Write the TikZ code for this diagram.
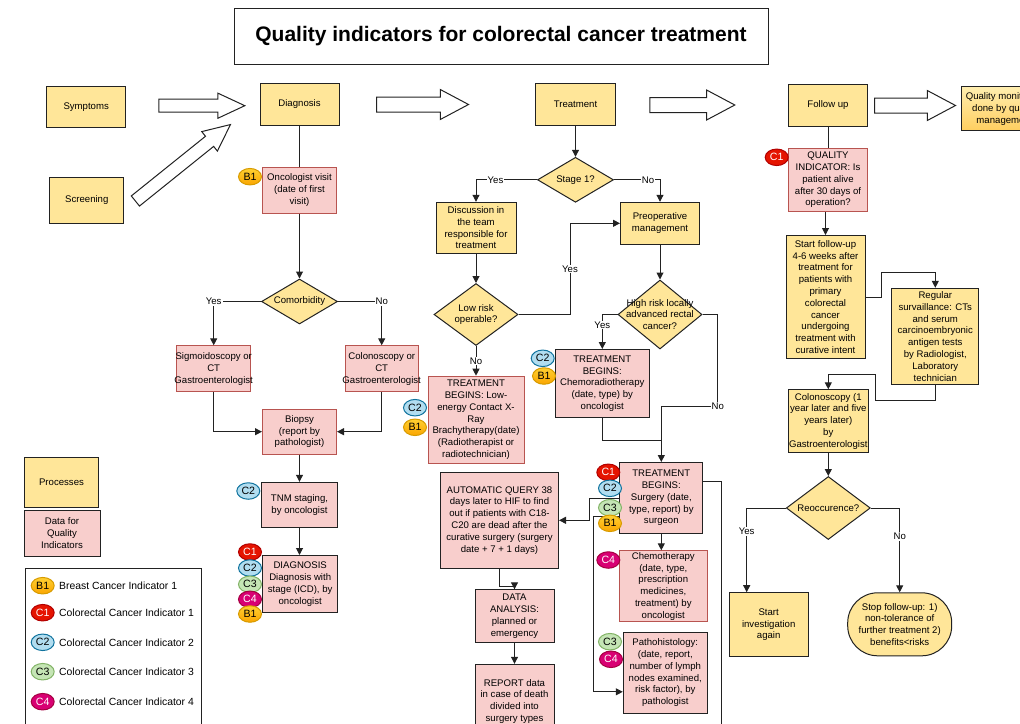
\documentclass[tikz,border=0pt]{standalone}
\usepackage{fontspec}
\setmainfont{Liberation Sans}
\usepackage{tikz}
\usetikzlibrary{shapes.geometric,shapes.arrows,arrows.meta,positioning,calc}
\definecolor{procyellow}{RGB}{255,230,153}
\definecolor{datapink}{RGB}{248,206,204}
\definecolor{datared}{RGB}{184,84,80}
\definecolor{darkline}{RGB}{34,34,34}
\definecolor{badgeorange}{RGB}{255,208,50}
\definecolor{badgeorangeb}{RGB}{250,165,0}
\definecolor{badgeorangeline}{RGB}{215,155,0}
\definecolor{badgered}{RGB}{229,20,0}
\definecolor{badgeredline}{RGB}{178,0,0}
\definecolor{badgeblue}{RGB}{177,221,240}
\definecolor{badgeblueline}{RGB}{16,115,158}
\definecolor{badgegreen}{RGB}{197,229,181}
\definecolor{badgegreenline}{RGB}{130,179,102}
\definecolor{badgemagenta}{RGB}{216,0,115}
\definecolor{badgemagentaline}{RGB}{165,0,64}
\definecolor{monitortop}{RGB}{255,238,175}
\definecolor{monitorbot}{RGB}{255,206,95}

\begin{document}
\begin{tikzpicture}[x=1pt, y=-1pt, font=\fontsize{9.6}{11.8}\selectfont]
\tikzstyle{process} = [rectangle, draw=darkline, line width=1pt, fill=procyellow, align=center, inner xsep=1pt, inner ysep=1pt]
\tikzstyle{data} = [rectangle, draw=datared, line width=1pt, fill=datapink, align=center, inner xsep=1pt, inner ysep=1pt]
\tikzstyle{datadark} = [data, draw=darkline]
\tikzstyle{decision} = [diamond, draw=darkline, line width=1pt, fill=procyellow, align=center, inner sep=0pt]
\tikzstyle{bigarrow} = [single arrow, draw=darkline, line width=1pt, fill=white, inner xsep=0pt, inner ysep=7pt, single arrow tip angle=56, single arrow head extend=7.5pt]
\tikzstyle{smallarrow} = [bigarrow, inner ysep=6pt, single arrow head extend=6pt, single arrow tip angle=50]
\tikzstyle{badge} = [ellipse, line width=1pt, minimum width=23pt, minimum height=16.5pt, inner sep=0pt, font=\fontsize{10.6}{12}\selectfont]
\tikzstyle{badgeB} = [badge, draw=badgeorangeline, top color=badgeorange, bottom color=badgeorangeb]
\tikzstyle{badgeCa} = [badge, draw=badgeredline, fill=badgered, text=white]
\tikzstyle{badgeCb} = [badge, draw=badgeblueline, fill=badgeblue]
\tikzstyle{badgeCc} = [badge, draw=badgegreenline, fill=badgegreen]
\tikzstyle{badgeCd} = [badge, draw=badgemagentaline, fill=badgemagenta, text=white]
\tikzstyle{arrow} = [line width=1pt, draw=darkline, ->, >={Triangle[length=7pt,width=7pt]}]
\tikzstyle{link} = [line width=1pt, draw=darkline]
\tikzstyle{lbl} = [fill=white, inner sep=1pt]
\tikzstyle{keytext} = [anchor=west, inner sep=0pt, font=\fontsize{10.4}{12}\selectfont]

\useasboundingbox (0,0) rectangle (1020,723);
\clip (0,0) rectangle (1020,723);

\node (Title) [draw=darkline, line width=1pt, minimum width=534pt, minimum height=56pt, font=\fontsize{21}{25}\selectfont\bfseries] at (501,36) {Quality indicators for colorectal cancer treatment};

% top row
\node (Symptoms) [process, minimum width=79pt, minimum height=41pt] at (86.2,106.7) {Symptoms};
\node (Screening) [process, minimum width=74pt, minimum height=46pt] at (86.8,200.5) {Screening};
\node (ArrowSymptoms) [smallarrow, minimum height=86pt, anchor=tail] at (158.3,105.7) {};
\node (ArrowScreening) [smallarrow, minimum height=122pt, rotate=38.8, anchor=tail] at (135,201.3) {};
\node (Diagnosis) [process, minimum width=79pt, minimum height=42pt] at (299.5,104.3) {Diagnosis};
\node (ArrowDiagnosis) [bigarrow, minimum height=92pt, anchor=tail] at (376,104.5) {};
\node (Treatment) [process, minimum width=80pt, minimum height=42pt] at (575.5,104.5) {Treatment};
\node (ArrowTreatment) [bigarrow, minimum height=85pt, anchor=tail] at (649.3,105) {};
\node (FollowUp) [process, minimum width=79pt, minimum height=42pt] at (828,105) {Follow up};
\node (ArrowFollowUp) [bigarrow, minimum height=81pt, anchor=tail] at (874,105.5) {};
\node (Monitoring) [process, top color=monitortop, bottom color=monitorbot, minimum width=87pt, minimum height=44pt] at (1004.5,108.8) {Quality monitoring\\done by quality\\management};

% diagnosis
\node (Onco) [data, minimum width=74pt, minimum height=46pt] at (299.5,190.3) {Oncologist visit\\(date of first\\visit)};
\node (Comorbidity) [decision, aspect=1.68, minimum width=76pt, minimum height=45pt] at (299.5,301.5) {Comorbidity};
\node (Sigmo) [data, inner xsep=-3pt, minimum width=74pt, minimum height=46pt] at (213.7,368.8) {Sigmoidoscopy or\\CT\\Gastroenterologist};
\node (Colono) [data, inner xsep=-3pt, minimum width=73pt, minimum height=46pt] at (381.7,368.8) {Colonoscopy or\\CT\\Gastroenterologist};
\node (Biopsy) [data, minimum width=74pt, minimum height=45pt] at (299.5,431.7) {Biopsy\\(report by\\pathologist)};
\node (TNM) [datadark, minimum width=76pt, minimum height=45pt] at (299.5,504.8) {TNM staging,\\by oncologist};
\node (DiagnosisFinal) [datadark, minimum width=75pt, minimum height=57pt] at (300.2,584) {DIAGNOSIS\\Diagnosis with\\stage (ICD), by\\oncologist};

% legend
\node (KeyProcess) [process, minimum width=74pt, minimum height=50pt] at (61.5,482.7) {Processes};
\node (KeyData) [datadark, minimum width=76pt, minimum height=46pt] at (62,533) {Data for\\Quality\\Indicators};
\node (KeyFrame) [draw=darkline, line width=1pt, minimum width=176pt, minimum height=180pt, anchor=north west] at (25,567.7) {};

% treatment
\node (Stage) [decision, aspect=1.65, minimum width=76pt, minimum height=45pt] at (575.5,179.8) {Stage 1?};
\node (Discussion) [process, minimum width=80pt, minimum height=51pt] at (476,227.8) {Discussion in\\the team\\responsible for\\treatment};
\node (Preop) [process, minimum width=79pt, minimum height=42pt] at (660,223.3) {Preoperative\\management};
\node (LowRisk) [decision, aspect=1.35, minimum width=84pt, minimum height=62pt] at (476,314.5) {Low risk\\operable?};
\node (HighRisk) [decision, minimum width=84pt, minimum height=69pt] at (660,314.5) {};
\node (HighRiskText) [align=center, inner sep=0pt] at (HighRisk) {High risk locally\\advanced rectal\\cancer?};
\node (TreatLow) [data, minimum width=96pt, minimum height=87pt] at (476,419.7) {TREATMENT\\BEGINS: Low-\\energy Contact X-\\Ray\\Brachytherapy(date)\\(Radiotherapist or\\radiotechnician)};
\node (Chemo) [datadark, minimum width=94pt, minimum height=68pt] at (602.3,383.5) {TREATMENT\\BEGINS:\\Chemoradiotherapy\\(date, type) by\\oncologist};
\node (Surgery) [datadark, minimum width=83pt, minimum height=71pt] at (661.3,498) {TREATMENT\\BEGINS:\\Surgery (date,\\type, report) by\\surgeon};
\node (Chemotherapy) [data, minimum width=88pt, minimum height=71pt] at (663.3,586.3) {Chemotherapy\\(date, type,\\prescription\\medicines,\\treatment) by\\oncologist};
\node (Patho) [datadark, minimum width=84pt, minimum height=81pt] at (665.3,672.8) {Pathohistology:\\(date, report,\\number of lymph\\nodes examined,\\risk factor), by\\pathologist};
\node (Query) [datadark, minimum width=118pt, minimum height=96pt] at (499.5,520.3) {AUTOMATIC QUERY 38\\days later to HIF to find\\out if patients with C18-\\C20 are dead after the\\curative surgery (surgery\\date + 7 + 1 days)};
\node (Analysis) [datadark, minimum width=79pt, minimum height=53pt] at (514.5,616.3) {DATA\\ANALYSIS:\\planned or\\emergency};
\node (Report) [datadark, minimum width=79pt, minimum height=74pt] at (514.5,701.3) {REPORT data\\in case of death\\divided into\\surgery types};
\coordinate (SurgeryTail) at (721.7,740);

% follow up
\node (Quality) [data, minimum width=79pt, minimum height=63pt] at (828,180) {QUALITY\\INDICATOR: Is\\patient alive\\after 30 days of\\operation?};
\node (StartFU) [process, minimum width=79pt, minimum height=123pt] at (825.5,297) {Start follow-up\\4-6 weeks after\\treatment for\\patients with\\primary\\colorectal\\cancer\\undergoing\\treatment with\\curative intent};
\node (Regular) [process, minimum width=87pt, minimum height=96pt] at (935.3,336.3) {Regular\\survaillance: CTs\\and serum\\carcinoembryonic\\antigen tests\\by Radiologist,\\Laboratory\\technician};
\node (Colon2) [process, minimum width=79pt, minimum height=63pt] at (828.3,421.3) {Colonoscopy (1\\year later and five\\years later)\\by\\Gastroenterologist};
\node (Reocc) [decision, aspect=1.35, minimum width=84pt, minimum height=63pt] at (828.3,508) {Reoccurence?};
\node (StartInv) [process, minimum width=79pt, minimum height=64pt] at (768.7,624.7) {Start\\investigation\\again};
\node (Stop) [process, rounded corners=30pt, minimum width=104pt, minimum height=63pt] at (899.7,624.3) {Stop follow-up: 1)\\non-tolerance of\\further treatment 2)\\benefits<risks};

% connectors
\draw [link] (Diagnosis) -- (Onco);
\draw [arrow] (Onco) -- (Comorbidity);
\draw [arrow] (Comorbidity.west) -| node[lbl, pos=0.5] {Yes} (Sigmo.north);
\draw [arrow] (Comorbidity.east) -| node[lbl, pos=0.5] {No} (Colono.north);
\draw [arrow] (Sigmo.south) |- (Biopsy.west);
\draw [arrow] (Colono.south) |- (Biopsy.east);
\draw [arrow] (Biopsy) -- (TNM);
\draw [arrow] (TNM) -- (TNM |- DiagnosisFinal.north);

\draw [arrow] (Treatment) -- (Stage);
\draw [arrow] (Stage.west) -| node[lbl, pos=0.34] {Yes} (Discussion.north);
\draw [arrow] (Stage.east) -| node[lbl, pos=0.37] {No} (Preop.north);
\draw [arrow] (Discussion) -- (LowRisk);
\draw [arrow] (Preop) -- (HighRisk);
\draw [arrow] (LowRisk.east) -| node[lbl, pos=0.75] {Yes} ($(Preop.west)+(-50,0)$) -- (Preop.west);
\draw [arrow] (LowRisk) -- node[lbl] {No} (TreatLow);
\draw [arrow] (HighRisk.west) -| node[lbl, pos=0.65] {Yes} (Chemo.north);
\draw [link] (Chemo.south) |- ($(Surgery.north)+(0,-22)$);
\draw [arrow] (HighRisk.east) -| (717.7,406.7) node[lbl] {No} -| (Surgery.north);
\draw [arrow] (Surgery.west) -- (589.3,498) |- (Query.east);
\draw [arrow] ([yshift=-18pt]Surgery.west) -- (593.3,516) |- ([yshift=-19pt]Patho.west);
\draw [arrow] (Surgery.south) -- (Surgery.south |- Chemotherapy.north);
\draw [link] ([yshift=17pt]Surgery.east) -| (SurgeryTail);
\draw [arrow] (Query.south) -- ++(0,17.7) -| (Analysis.north);
\draw [arrow] (Analysis) -- (Report);

\draw [link] (FollowUp) -- (Quality);
\draw [arrow] (StartFU.north |- Quality.south) -- (StartFU.north);
\draw [arrow] (StartFU.east) -- ++(15.7,0) |- ($(Regular.north)+(0,-15.6)$) -- (Regular.north);
\draw [arrow] (Regular.south) -- ++(0,15.7) -| (875,374.3) -| (Colon2.north);
\draw [arrow] (Colon2) -- (Reocc);
\draw [arrow] (Reocc.west) -| node[lbl, pos=0.64] {Yes} ([xshift=-22pt]StartInv.north);
\draw [arrow] (Reocc.east) -| node[lbl, pos=0.67] {No} (Stop.north);

% indicator badges
\node (OncoB1) [badgeB] at (250,176.7) {B1};
\node (TNMC2) [badgeCb] at (248.3,491) {C2};
\node (DiagC1) [badgeCa] at (250,552) {C1};
\node (DiagC2) [badgeCb] at (250,568) {C2};
\node (DiagC3) [badgeCc] at (250,584.3) {C3};
\node (DiagC4) [badgeCd] at (250,599.3) {C4};
\node (DiagB1) [badgeB] at (250,614) {B1};
\node (TreatLowC2) [badgeCb] at (415,407.7) {C2};
\node (TreatLowB1) [badgeB] at (415,427.3) {B1};
\node (ChemoC2) [badgeCb] at (542.7,358.3) {C2};
\node (ChemoB1) [badgeB] at (544,376) {B1};
\node (SurgeryC1) [badgeCa] at (608.3,472.3) {C1};
\node (SurgeryC2) [badgeCb] at (610,488.3) {C2};
\node (SurgeryC3) [badgeCc] at (610,507.7) {C3};
\node (SurgeryB1) [badgeB] at (610,523.3) {B1};
\node (ChemotherapyC4) [badgeCd] at (608.3,560) {C4};
\node (PathoC3) [badgeCc] at (610,641.7) {C3};
\node (PathoC4) [badgeCd] at (611,659.3) {C4};
\node (QualityC1) [badgeCa] at (776.7,157.3) {C1};

% legend keys
\node (KeyB1) [badgeB] at (42.7,585.7) {B1};
\node (KeyB1Text) [keytext] at (59,585.7) {Breast Cancer Indicator 1};
\node (KeyC1) [badgeCa] at (42.7,612.7) {C1};
\node (KeyC1Text) [keytext] at (59,612.7) {Colorectal Cancer Indicator 1};
\node (KeyC2) [badgeCb] at (42.7,642.3) {C2};
\node (KeyC2Text) [keytext] at (59,642.3) {Colorectal Cancer Indicator 2};
\node (KeyC3) [badgeCc] at (42.7,671.7) {C3};
\node (KeyC3Text) [keytext] at (59,671.7) {Colorectal Cancer Indicator 3};
\node (KeyC4) [badgeCd] at (42.7,701.7) {C4};
\node (KeyC4Text) [keytext] at (59,701.7) {Colorectal Cancer Indicator 4};
\end{tikzpicture}
\end{document}
